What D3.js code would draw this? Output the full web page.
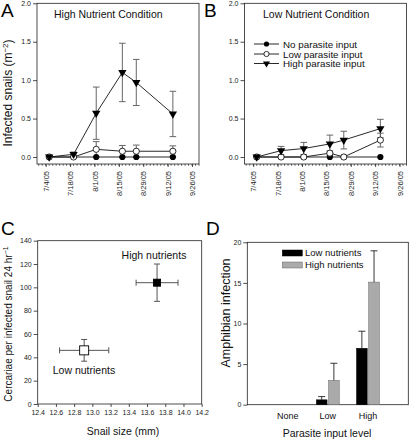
<!DOCTYPE html>
<html><head><meta charset="utf-8">
<script src="https://cdn.jsdelivr.net/npm/d3@7"></script>
<style>
body{margin:0;background:#fff;}
svg{display:block;font-family:"Liberation Sans",Arial,sans-serif;}
</style></head>
<body><svg id="c" width="410" height="440"></svg>
<script>
// ---------- DATA ----------
const sampleDates = ["7/6/05","7/20/05","8/2/05","8/17/05","8/25/05","9/15/05"];
const dateTicks = ["7/4/05","7/18/05","8/1/05","8/15/05","8/29/05","9/12/05","9/26/05"];
const dateDomain = ["6/29/05","9/30/05"];
const timeYTicks = [0,0.5,1.0,1.5,2.0];

// Panel A: High nutrient condition
const aNone = [0,0,0,0,0,0];
const aLow = [0,0,0.10,0.075,0.075,0.075];
const aLowErr = [0,0,0.10,0.075,0.08,0.07];
const aHigh = [0,0.035,0.57,1.10,0.97,0.56];
const aHighErr = [0,0.03,0.34,0.38,0.30,0.295];

// Panel B: Low nutrient condition
const bNone = [0,0,0,0,0,0];
const bLow = [0,0,0,0.05,0,0.22];
const bLowErr = [0,0,0,0.03,0,0.09];
const bHigh = [0,0.083,0.11,0.17,0.22,0.37];
const bHighErr = [0,0.055,0.08,0.115,0.115,0.12];

const seriesNames = ["No parasite input","Low parasite input","High parasite input"];

// Panel C
const cGroups = ["Low nutrients","High nutrients"];
const cSize = [12.91,13.71];
const cSizeErr = [0.27,0.23];
const cCerc = [46,104];
const cCercErr = [9.3,16];
const cXTicks = [12.4,12.6,12.8,13.0,13.2,13.4,13.6,13.8,14.0,14.2];
const cYTicks = [0,20,40,60,80,100,120,140];

// Panel D
const dLevels = ["None","Low","High"];
const dSeries = ["Low nutrients","High nutrients"];
const dLowNut = [0,0.6,6.95];
const dLowNutErr = [0,0.4,2.1];
const dHighNut = [0,3.0,15.1];
const dHighNutErr = [0,2.1,3.85];
const dYTicks = [0,5,10,15,20];

// ---------- DRAW ----------
const svg = d3.select("#c");
const parse = d3.timeParse("%m/%d/%y");
const fmtDate = d => `${d.getMonth()+1}/${d.getDate()}/05`;
const FONT_TICK = 7;

function timePanel(opts){
  const {x0,x1,yTop,yZero,yFrameBottom,none,low,lowErr,high,highErr,title,titleX,letter,letterX,ylabel,legend} = opts;
  const g = svg.append("g");
  const x = d3.scaleTime().domain(dateDomain.map(parse)).range([x0,x1]);
  const y = d3.scaleLinear().domain([0,2]).range([yZero,yTop]);
  // frame
  g.append("rect").attr("x",x0).attr("y",yTop).attr("width",x1-x0).attr("height",yFrameBottom-yTop)
    .attr("fill","none").attr("stroke","#222").attr("stroke-width",0.8);
  // y axis
  const ya = g.append("g").attr("transform",`translate(${x0},0)`)
    .call(d3.axisLeft(y).tickValues(timeYTicks).tickFormat(d3.format(".1f")).tickSize(4).tickPadding(2));
  ya.select(".domain").remove();
  ya.selectAll("line").attr("stroke","#222").attr("stroke-width",0.8);
  ya.selectAll("text").attr("font-size",FONT_TICK).attr("fill","#222").attr("font-family","Liberation Sans, Arial, sans-serif");
  // x axis major
  const major = dateTicks.map(parse);
  const xa = g.append("g").attr("transform",`translate(0,${yFrameBottom})`)
    .call(d3.axisBottom(x).tickValues(major).tickFormat(fmtDate).tickSize(3).tickPadding(3));
  xa.select(".domain").remove();
  xa.selectAll("line").attr("stroke","#222").attr("stroke-width",0.8);
  xa.selectAll("text").attr("font-size",7.5).attr("fill","#222")
    .attr("font-family","Liberation Sans, Arial, sans-serif")
    .attr("text-anchor","end").attr("transform","rotate(-90)")
    .attr("x",-7).attr("y",0).attr("dy","0.35em");
  // minor ticks every 2 days
  const dd = x.domain();
  const minor = d3.timeDay.range(dd[0], d3.timeDay.offset(dd[1],1))
    .filter(d => Math.round((d - major[0]) / 864e5) % 2 === 0);
  g.append("g").selectAll("line").data(minor).join("line")
    .attr("x1",d=>x(d)).attr("x2",d=>x(d)).attr("y1",yFrameBottom).attr("y2",yFrameBottom+1.8)
    .attr("stroke","#222").attr("stroke-width",0.7);

  const pts = sampleDates.map(parse);
  const line = d3.line().x((d,i)=>x(pts[i])).y(d=>y(d));
  const errC = "#666";
  function errBars(vals, errs){
    const eg = g.append("g");
    vals.forEach((v,i)=>{
      const e = errs[i]; if(!e) return;
      const cx = x(pts[i]);
      eg.append("line").attr("x1",cx).attr("x2",cx).attr("y1",y(v-e)).attr("y2",y(v+e)).attr("stroke",errC).attr("stroke-width",1);
      [v-e,v+e].forEach(w=>{
        eg.append("line").attr("x1",cx-3.3).attr("x2",cx+3.3).attr("y1",y(w)).attr("y2",y(w)).attr("stroke",errC).attr("stroke-width",1);
      });
    });
  }
  errBars(high, highErr);
  errBars(low, lowErr);
  // lines
  [none,low,high].forEach(s=>{
    g.append("path").datum(s).attr("d",line).attr("fill","none").attr("stroke","#111").attr("stroke-width",0.9);
  });
  // markers
  g.append("g").selectAll("circle").data(none).join("circle")
    .attr("cx",(d,i)=>x(pts[i])).attr("cy",d=>y(d)).attr("r",3.1).attr("fill","#000");
  g.append("g").selectAll("circle").data(low).join("circle")
    .attr("cx",(d,i)=>x(pts[i])).attr("cy",d=>y(d)).attr("r",3.1).attr("fill","#fff").attr("stroke","#000").attr("stroke-width",0.8);
  const tri = d3.symbol().type(d3.symbolTriangle).size(30);
  g.append("g").selectAll("path").data(high).join("path")
    .attr("d",tri).attr("transform",(d,i)=>`translate(${x(pts[i])},${y(d)}) rotate(180)`).attr("fill","#000");

  g.append("text").attr("x",titleX).attr("y",18).attr("font-size",10.5).attr("fill","#111").text(title);
  g.append("text").attr("x",letterX).attr("y",17).attr("font-size",19).attr("fill","#000").text(letter);
  if(ylabel){
    const t = g.append("text").attr("transform",`translate(12,93) rotate(-90)`)
      .attr("text-anchor","middle").attr("font-size",12).attr("fill","#111");
    t.append("tspan").text("Infected snails (m");
    t.append("tspan").attr("font-size",8).attr("dy",-4.5).text("−2");
    t.append("tspan").attr("dy",4.5).text(")");
  }
  if(legend){
    const rows = [44,54,63.5];
    seriesNames.forEach((nm,i)=>{
      const lg = g.append("g");
      lg.append("line").attr("x1",254).attr("x2",279).attr("y1",rows[i]).attr("y2",rows[i]).attr("stroke","#111").attr("stroke-width",0.9);
      if(i===0) lg.append("circle").attr("cx",266.5).attr("cy",rows[i]).attr("r",2.6).attr("fill","#000");
      if(i===1) lg.append("circle").attr("cx",266.5).attr("cy",rows[i]).attr("r",2.6).attr("fill","#fff").attr("stroke","#000").attr("stroke-width",0.8);
      if(i===2) lg.append("path").attr("d",d3.symbol().type(d3.symbolTriangle).size(22)).attr("transform",`translate(266.5,${rows[i]}) rotate(180)`).attr("fill","#000");
      lg.append("text").attr("x",283).attr("y",rows[i]+3.5).attr("font-size",9.8).attr("fill","#111").text(nm);
    });
  }
}

timePanel({x0:37,x1:199,yTop:3.3,yZero:157,yFrameBottom:164,none:aNone,low:aLow,lowErr:aLowErr,high:aHigh,highErr:aHighErr,
  title:"High Nutrient Condition",titleX:54,letter:"A",letterX:1,ylabel:true,legend:false});
timePanel({x0:244.5,x1:406.5,yTop:3.3,yZero:157,yFrameBottom:164,none:bNone,low:bLow,lowErr:bLowErr,high:bHigh,highErr:bHighErr,
  title:"Low Nutrient Condition",titleX:263,letter:"B",letterX:204,ylabel:false,legend:true});

// ---- Panel C ----
(function(){
  const x0=37.7,x1=201.7,yT=240.7,yB=404;
  const g = svg.append("g");
  const x = d3.scaleLinear().domain([12.4,14.2]).range([x0,x1]);
  const y = d3.scaleLinear().domain([0,140]).range([yB,yT]);
  g.append("rect").attr("x",x0).attr("y",yT).attr("width",x1-x0).attr("height",yB-yT).attr("fill","none").attr("stroke","#222").attr("stroke-width",0.8);
  const ya = g.append("g").attr("transform",`translate(${x0},0)`).call(d3.axisLeft(y).tickValues(cYTicks).tickSize(4).tickPadding(2));
  ya.select(".domain").remove();
  const xa = g.append("g").attr("transform",`translate(0,${yB})`).call(d3.axisBottom(x).tickValues(cXTicks).tickFormat(d3.format(".1f")).tickSize(3).tickPadding(3));
  xa.select(".domain").remove();
  [ya,xa].forEach(a=>{a.selectAll("line").attr("stroke","#222").attr("stroke-width",0.8);
    a.selectAll("text").attr("font-size",FONT_TICK).attr("fill","#222").attr("font-family","Liberation Sans, Arial, sans-serif");});
  const ec="#555";
  cGroups.forEach((nm,i)=>{
    const cx=x(cSize[i]), cy=y(cCerc[i]);
    const xl=x(cSize[i]-cSizeErr[i]), xr=x(cSize[i]+cSizeErr[i]);
    const yt=y(cCerc[i]+cCercErr[i]), yb=y(cCerc[i]-cCercErr[i]);
    g.append("line").attr("x1",xl).attr("x2",xr).attr("y1",cy).attr("y2",cy).attr("stroke",ec);
    g.append("line").attr("x1",cx).attr("x2",cx).attr("y1",yt).attr("y2",yb).attr("stroke",ec);
    [xl,xr].forEach(v=>g.append("line").attr("x1",v).attr("x2",v).attr("y1",cy-3).attr("y2",cy+3).attr("stroke",ec));
    [yt,yb].forEach(v=>g.append("line").attr("x1",cx-3).attr("x2",cx+3).attr("y1",v).attr("y2",v).attr("stroke",ec));
    const s = i===0?9:7;
    g.append("rect").attr("x",cx-s/2).attr("y",cy-s/2).attr("width",s).attr("height",s)
      .attr("fill",i===0?"#fff":"#000").attr("stroke","#000").attr("stroke-width",0.9);
  });
  g.append("text").attr("x",154).attr("y",259).attr("text-anchor","middle").attr("font-size",10.5).attr("fill","#111").text(cGroups[1]);
  g.append("text").attr("x",84).attr("y",373.5).attr("text-anchor","middle").attr("font-size",10.5).attr("fill","#111").text(cGroups[0]);
  g.append("text").attr("x",123).attr("y",435).attr("text-anchor","middle").attr("font-size",10.5).attr("fill","#111").text("Snail size (mm)");
  const t = g.append("text").attr("transform",`translate(12,324) rotate(-90)`).attr("text-anchor","middle").attr("font-size",10).attr("fill","#111");
  t.append("tspan").text("Cercariae per infected snail 24 hr");
  t.append("tspan").attr("font-size",7).attr("dy",-4).text("−1");
  g.append("text").attr("x",1).attr("y",235).attr("font-size",19).attr("fill","#000").text("C");
})();

// ---- Panel D ----
(function(){
  const x0=247.3,x1=408.3,yT=242.3,yB=404.7;
  const g = svg.append("g");
  const x = d3.scaleBand().domain(dLevels).range([x0,x1]).paddingInner(0.43).paddingOuter(0.72);
  const xs = d3.scaleBand().domain(dSeries).range([0,x.bandwidth()]).paddingInner(0.12);
  const y = d3.scaleLinear().domain([0,20]).range([yB,yT]);
  g.append("rect").attr("x",x0).attr("y",yT).attr("width",x1-x0).attr("height",yB-yT).attr("fill","none").attr("stroke","#222").attr("stroke-width",0.8);
  const ya = g.append("g").attr("transform",`translate(${x0},0)`).call(d3.axisLeft(y).tickValues(dYTicks).tickSize(4).tickPadding(2));
  ya.select(".domain").remove();
  ya.selectAll("line").attr("stroke","#222").attr("stroke-width",0.8);
  ya.selectAll("text").attr("font-size",FONT_TICK).attr("fill","#222").attr("font-family","Liberation Sans, Arial, sans-serif");
  const xa = g.append("g").attr("transform",`translate(0,${yB})`).call(d3.axisBottom(x).tickSize(0).tickPadding(8));
  xa.select(".domain").remove();
  xa.selectAll("text").attr("font-size",9).attr("fill","#111").attr("font-family","Liberation Sans, Arial, sans-serif");
  const series = [[dLowNut,dLowNutErr,"#000"],[dHighNut,dHighNutErr,"#aaa"]];
  series.forEach(([vals,errs,col],si)=>{
    dLevels.forEach((lv,i)=>{
      const bx = x(lv)+xs(dSeries[si]), bw = xs.bandwidth();
      if(vals[i]>0){
        g.append("rect").attr("x",bx).attr("y",y(vals[i])).attr("width",bw).attr("height",yB-y(vals[i]))
          .attr("fill",col).attr("stroke",si?"#666":"#000").attr("stroke-width",0.5);
      }
      if(errs[i]>0){
        const cx = bx+bw/2;
        g.append("line").attr("x1",cx).attr("x2",cx).attr("y1",y(vals[i])).attr("y2",y(vals[i]+errs[i])).attr("stroke","#222").attr("stroke-width",0.9);
        g.append("line").attr("x1",cx-3.5).attr("x2",cx+3.5).attr("y1",y(vals[i]+errs[i])).attr("y2",y(vals[i]+errs[i])).attr("stroke","#222").attr("stroke-width",0.9);
      }
    });
  });
  // legend
  [[250,"#000"],[262,"#aaa"]].forEach(([yy,col],i)=>{
    g.append("rect").attr("x",282.3).attr("y",yy).attr("width",20).attr("height",6).attr("fill",col).attr("stroke",i?"#666":"#000").attr("stroke-width",0.5);
    g.append("text").attr("x",305).attr("y",yy+6.3).attr("font-size",9.5).attr("fill","#111").text(dSeries[i]);
  });
  g.append("text").attr("x",327).attr("y",437).attr("text-anchor","middle").attr("font-size",10.5).attr("fill","#111").text("Parasite input level");
  g.append("text").attr("transform",`translate(230,313) rotate(-90)`).attr("text-anchor","middle").attr("font-size",12.5).attr("fill","#111").text("Amphibian infection");
  g.append("text").attr("x",206).attr("y",235).attr("font-size",19).attr("fill","#000").text("D");
})();
</script></body></html>
